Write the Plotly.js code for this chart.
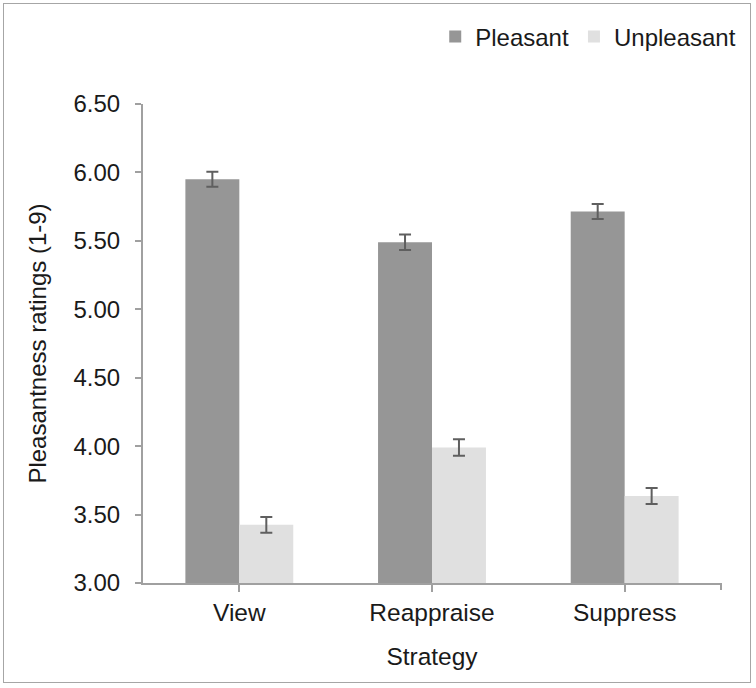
<!DOCTYPE html>
<html>
<head>
<meta charset="utf-8">
<script src="https://cdn.plot.ly/plotly-3.0.1.min.js"></script>
<style>
html,body{margin:0;padding:0;background:#fff;}
#wrap{position:relative;width:756px;height:688px;}
#chart{width:756px;height:688px;}
#frame{position:absolute;left:3px;top:3px;width:748px;height:680px;border:1px solid #a6a6a6;pointer-events:none;box-sizing:border-box;}
</style>
</head>
<body>
<div id="wrap"><div id="chart"></div><div id="frame"></div></div>
<script>
var categories = ["View", "Reappraise", "Suppress"];
var pleasant = [5.95, 5.49, 5.715];
var pleasantErr = [0.055, 0.056, 0.055];
var unpleasant = [3.425, 3.99, 3.636];
var unpleasantErr = [0.058, 0.06, 0.058];
var yTicks = [3.0, 3.5, 4.0, 4.5, 5.0, 5.5, 6.0, 6.5];
var yTickLabels = ["3.00", "3.50", "4.00", "4.50", "5.00", "5.50", "6.00", "6.50"];

var font = "Liberation Sans, Arial, sans-serif";
var axisColor = "#a0a0a0";
var textColor = "#1a1a1a";

var traces = [
  {
    type: "bar", name: "Pleasant", x: categories, y: pleasant,
    marker: {color: "#969696"},
    error_y: {type: "data", array: pleasantErr, visible: true, color: "#5f5f5f", thickness: 2, width: 6}
  },
  {
    type: "bar", name: "Unpleasant", x: categories, y: unpleasant,
    marker: {color: "#e0e0e0"},
    error_y: {type: "data", array: unpleasantErr, visible: true, color: "#5f5f5f", thickness: 2, width: 6}
  }
];

var layout = {
  width: 756, height: 688,
  margin: {l: 143, r: 35, t: 104, b: 105},
  paper_bgcolor: "#fff", plot_bgcolor: "#fff",
  font: {family: font, color: textColor, size: 24},
  barmode: "group", bargap: 0.44, bargroupgap: 0,
  showlegend: true,
  legend: {orientation: "h", x: 1.035, xanchor: "right", y: 1.14, yanchor: "middle",
           font: {family: font, size: 24, color: textColor}, traceorder: "normal"},
  xaxis: {
    showline: true, linecolor: axisColor, linewidth: 2,
    ticks: "outside", ticklen: 7, tickcolor: axisColor, tickwidth: 2,
    tickfont: {family: font, size: 24.5, color: textColor},
    title: {text: "Strategy", font: {family: font, size: 24.5, color: textColor}, standoff: 22},
    showgrid: false, zeroline: false
  },
  yaxis: {
    range: [3.0, 6.5], tickvals: yTicks, ticktext: yTickLabels,
    showline: true, linecolor: axisColor, linewidth: 2,
    ticks: "outside", ticklen: 6, tickcolor: axisColor, tickwidth: 2,
    tickfont: {family: font, size: 24, color: textColor},
    ticklabelstandoff: 10,
    title: {text: "Pleasantness ratings (1-9)", font: {family: font, size: 24, color: textColor}, standoff: 20},
    showgrid: false, zeroline: false
  },
  shapes: [
    {type: "line", xref: "paper", yref: "paper", x0: 1, x1: 1, y0: 0, y1: -0.0146,
     line: {color: axisColor, width: 2}}
  ]
};

Plotly.newPlot("chart", traces, layout, {displayModeBar: false, staticPlot: true});
</script>
</body>
</html>
